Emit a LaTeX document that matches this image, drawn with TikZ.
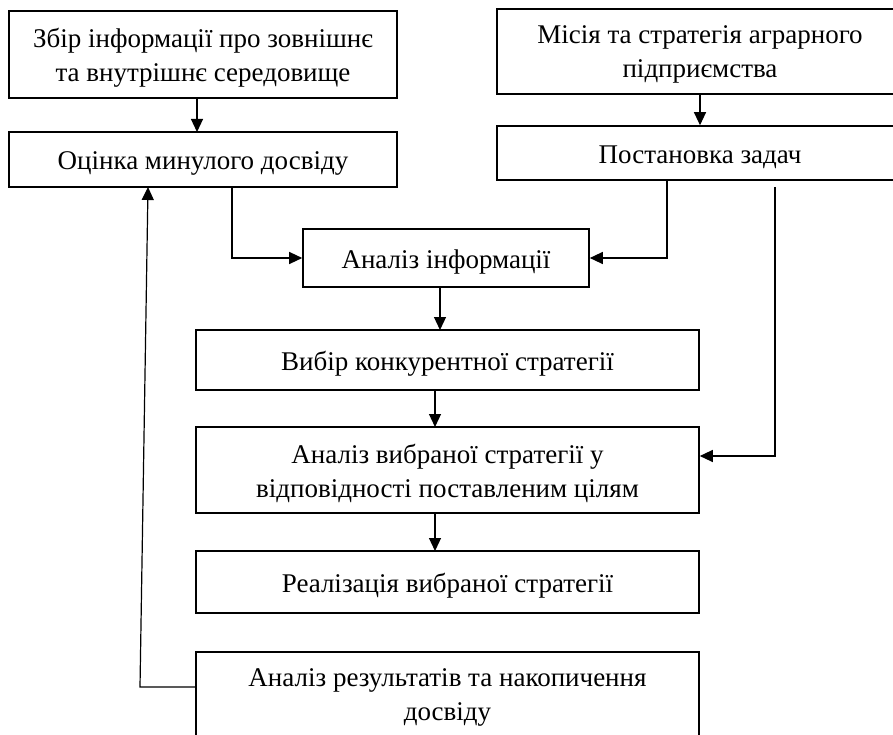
\documentclass[tikz,border=0pt]{standalone}
\usepackage{fontspec}
\setmainfont{Liberation Serif}
\usetikzlibrary{arrows.meta}
\tikzset{
	blok/.style={draw, line width=1.6pt, align=center, inner sep=0pt, font=\fontsize{27}{34}\selectfont, text height=21pt, text depth=0pt},
	dvarjadky/.style={blok, text height=55pt},
	strilka/.style={line width=1.2pt, -{Triangle[length=13pt,width=12pt]}},
}
\begin{document}
\begin{tikzpicture}[x=1pt,y=-1pt]
		\path[use as bounding box, clip] (0,0) rectangle (893,735);
		\node[dvarjadky, minimum width=388pt, minimum height=87pt](zbir) at (203,54.5) {Збір інформації про зовнішнє\\та внутрішнє середовище};
		\node[dvarjadky, text height=53pt, minimum width=406pt, minimum height=85pt](misiia) at (700,51.5) {Місія та стратегія аграрного\\підприємства};
		\node[blok, minimum width=388pt, minimum height=55pt](ocinka) at (203,159.5) {Оцінка минулого досвіду};
		\node[blok, minimum width=406pt, minimum height=54pt](zadachi) at (700,153) {Постановка задач};
		\node[blok, minimum width=286pt, minimum height=58pt](analiz) at (446,258) {Аналіз інформації};
		\node[blok, minimum width=503pt, minimum height=60pt](vybir) at (447.5,360) {Вибір конкурентної стратегії};
		\node[dvarjadky, text height=54pt, minimum width=503pt, minimum height=86pt](perevirka) at (447.5,470) {Аналіз вибраної стратегії у\\відповідності поставленим цілям};
		\node[blok, minimum width=503pt, minimum height=62pt](realiz) at (447.5,582) {Реалізація вибраної стратегії};
		\node[dvarjadky, text height=48pt, minimum width=503pt, minimum height=88pt](rezult) at (447.5,696) {Аналіз результатів та накопичення\\досвіду};
		\coordinate (cili) at (775,187);
		\coordinate (zvorot) at (140,687);
		\draw[strilka] (197,98) -- (197,132);
		\draw[strilka] (misiia) -- (zadachi);
		\draw[strilka] (232,187) |- (analiz.west);
		\draw[strilka] (667,180) |- (analiz.east);
		\draw[strilka] (440,287) -- (440,330);
		\draw[strilka] (435,390) -- (435,427);
		\draw[strilka] (435,513) -- (435,551);
		\draw[strilka] (cili) |- (perevirka.east |- 0,456);
		\draw[strilka] (rezult.west |- zvorot) -- (zvorot) -- (148,187);
	\end{tikzpicture}
\end{document}
